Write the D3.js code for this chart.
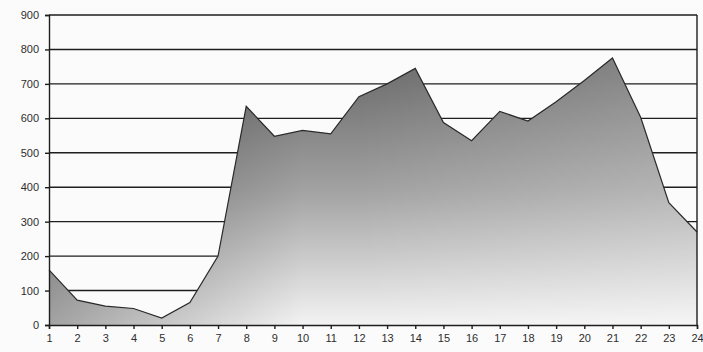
<!DOCTYPE html>
<html><head><meta charset="utf-8">
<script src="https://cdn.jsdelivr.net/npm/d3@7"></script>
<style>body{margin:0;background:#fbfbfb;}svg{display:block;}</style>
</head><body>
<script>
const hours = [1,2,3,4,5,6,7,8,9,10,11,12,13,14,15,16,17,18,19,20,21,22,23,24];
const values = [160,72,55,48,20,65,200,635,548,565,555,663,700,745,588,535,620,592,648,710,775,603,355,270];
const yTicks = [0,100,200,300,400,500,600,700,800,900];

const W = 703, H = 352;
const m = {left:49, right:6, top:15, bottom:27};
const svg = d3.select("body").append("svg").attr("width",W).attr("height",H);
const x = d3.scaleLinear().domain([1,24]).range([m.left, W-m.right]);
const y = d3.scaleLinear().domain([0,900]).range([H-m.bottom, m.top]);

const defs = svg.append("defs");
const gv = defs.append("linearGradient").attr("id","gv").attr("gradientUnits","userSpaceOnUse")
  .attr("x1",0).attr("y1",y(780)).attr("x2",0).attr("y2",y(0));
gv.append("stop").attr("offset","0").attr("stop-color","#666666");
gv.append("stop").attr("offset","0.5").attr("stop-color","#a2a2a2");
gv.append("stop").attr("offset","1").attr("stop-color","#f3f3f3");
const gl = defs.append("linearGradient").attr("id","gl").attr("gradientUnits","userSpaceOnUse")
  .attr("x1",x(1)).attr("y1",0).attr("x2",x(10)).attr("y2",0);
gl.append("stop").attr("offset","0").attr("stop-color","#000").attr("stop-opacity",0.33);
gl.append("stop").attr("offset","1").attr("stop-color","#000").attr("stop-opacity",0);
const gr = defs.append("linearGradient").attr("id","gr").attr("gradientUnits","userSpaceOnUse")
  .attr("x1",x(12)).attr("y1",0).attr("x2",x(24)).attr("y2",0);
gr.append("stop").attr("offset","0").attr("stop-color","#fff").attr("stop-opacity",0);
gr.append("stop").attr("offset","1").attr("stop-color","#fff").attr("stop-opacity",0.22);

// grid
svg.append("g").selectAll("line").data(yTicks.filter(d=>d>0)).join("line")
  .attr("x1",x(1)).attr("x2",x(24)).attr("y1",d=>y(d)).attr("y2",d=>y(d))
  .attr("stroke","#1e1e1e").attr("stroke-width",1.4);

// area
const area = d3.area().x((d,i)=>x(hours[i])).y0(y(0)).y1(d=>y(d));
defs.append("clipPath").attr("id","ac").append("path").datum(values).attr("d",area);
svg.append("path").datum(values).attr("d",area).attr("fill","url(#gv)");
svg.append("rect").attr("clip-path","url(#ac)").attr("x",x(1)).attr("y",y(900)).attr("width",x(24)-x(1)).attr("height",y(0)-y(900)).attr("fill","url(#gl)");
svg.append("rect").attr("clip-path","url(#ac)").attr("x",x(1)).attr("y",y(900)).attr("width",x(24)-x(1)).attr("height",y(0)-y(900)).attr("fill","url(#gr)");
const line = d3.line().x((d,i)=>x(hours[i])).y(d=>y(d));
svg.append("path").datum(values).attr("d",line).attr("fill","none").attr("stroke","#2a2a2a").attr("stroke-width",1.2);

// right border
svg.append("line").attr("x1",x(24)).attr("x2",x(24)).attr("y1",y(900)).attr("y2",y(0))
  .attr("stroke","#1e1e1e").attr("stroke-width",1.4);

// axes
const yAxis = svg.append("g").attr("transform",`translate(${m.left},0)`)
  .call(d3.axisLeft(y).tickValues(yTicks).tickSize(4).tickPadding(6));
const xAxis = svg.append("g").attr("transform",`translate(0,${H-m.bottom})`)
  .call(d3.axisBottom(x).tickValues(hours).tickSize(4).tickPadding(5).tickFormat(d3.format("d")));
[yAxis,xAxis].forEach(a=>{
  a.attr("color","#2a2a2a");
  a.select(".domain").attr("stroke","#1e1e1e").attr("stroke-width",1.4);
  a.selectAll(".tick line").attr("stroke","#1e1e1e").attr("stroke-width",1.4);
  a.selectAll("text").attr("fill","#2e2e2e").style("fill","#2e2e2e").style("font-family","Liberation Sans, Arial, sans-serif").style("font-size","11px");
});
</script>
</body></html>
